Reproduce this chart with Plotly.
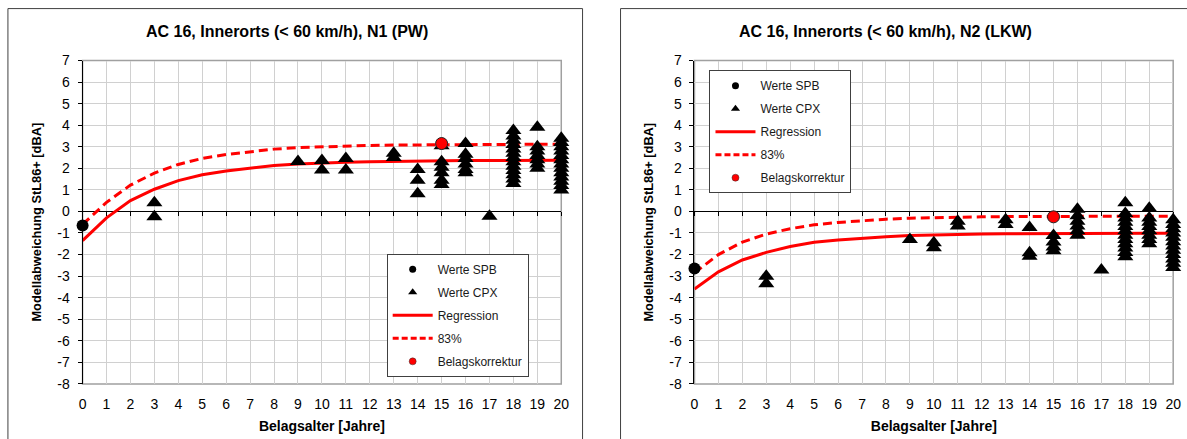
import plotly.graph_objects as go

# ---------------- data ----------------
years = list(range(0, 21))
x_ticks = list(range(0, 21))
y_ticks = list(range(-8, 8))
y_ticklabels = [str(v) for v in y_ticks]

title_pw = "AC 16, Innerorts (< 60 km/h), N1 (PW)"
title_lkw = "AC 16, Innerorts (< 60 km/h), N2 (LKW)"
x_title = "Belagsalter [Jahre]"
y_title = "Modellabweichung StL86+ [dBA]"
legend_names = ["Werte SPB", "Werte CPX", "Regression", "83%", "Belagskorrektur"]

# N1 (PW)
pw_spb_x = [0]
pw_spb_y = [-0.65]
pw_cpx_x = [3, 3,
            9,
            10, 10,
            11, 11,
            13, 13,
            14, 14, 14,
            15, 15, 15, 15, 15, 15,
            16, 16, 16, 16, 16, 16,
            17,
            18, 18, 18, 18, 18, 18, 18, 18, 18, 18, 18, 18, 18,
            19, 19, 19, 19, 19, 19, 19,
            20, 20, 20, 20, 20, 20, 20, 20, 20, 20, 20, 20, 20]
pw_cpx_y = [0.4, -0.25,
            2.32,
            2.36, 1.92,
            2.45, 1.92,
            2.7, 2.5,
            1.95, 1.45, 0.82,
            3.05, 2.3, 2.05, 1.8, 1.45, 1.25,
            3.15, 2.65, 2.45, 2.2, 1.95, 1.8,
            -0.22,
            3.75, 3.5, 3.3, 3.1, 2.9, 2.7, 2.5, 2.3, 2.1, 1.9, 1.7, 1.5, 1.3,
            3.9, 3.0, 2.8, 2.6, 2.4, 2.2, 2.0,
            3.4, 3.2, 3.0, 2.8, 2.6, 2.4, 2.2, 2.0, 1.8, 1.6, 1.4, 1.2, 1.0]
pw_regression = [-1.35, -0.3, 0.5, 1.03, 1.43, 1.7, 1.88, 2.02, 2.13, 2.2, 2.25,
                 2.28, 2.31, 2.33, 2.34, 2.35, 2.36, 2.36, 2.37, 2.37, 2.37]
pw_p83 = [-0.6, 0.42, 1.22, 1.78, 2.18, 2.46, 2.64, 2.78, 2.89, 2.96, 3.0,
          3.04, 3.06, 3.08, 3.09, 3.1, 3.11, 3.11, 3.12, 3.12, 3.12]
pw_korr_x = [15]
pw_korr_y = [3.15]

# N2 (LKW)
lkw_spb_x = [0]
lkw_spb_y = [-2.65]
lkw_cpx_x = [3, 3,
             9,
             10, 10,
             11, 11,
             13, 13,
             14, 14, 14,
             15, 15, 15, 15,
             16, 16, 16, 16, 16, 16,
             17,
             18, 18, 18, 18, 18, 18, 18, 18, 18, 18, 18, 18,
             19, 19, 19, 19, 19, 19, 19, 19,
             20, 20, 20, 20, 20, 20, 20, 20, 20, 20, 20, 20]
lkw_cpx_y = [-3.0, -3.35,
             -1.3,
             -1.45, -1.68,
             -0.45, -0.67,
             -0.38, -0.6,
             -0.75, -1.92, -2.08,
             -1.12, -1.42, -1.65, -1.82,
             0.1, -0.2, -0.45, -0.67, -0.9, -1.1,
             -2.72,
             0.4, -0.1, -0.3, -0.5, -0.7, -0.9, -1.1, -1.3, -1.5, -1.7, -1.9, -2.1,
             0.15, -0.3, -0.5, -0.7, -0.9, -1.1, -1.3, -1.5,
             -0.38, -0.6, -0.8, -1.0, -1.2, -1.4, -1.6, -1.8, -2.0, -2.2, -2.4, -2.6]
lkw_regression = [-3.6, -2.8, -2.25, -1.9, -1.63, -1.43, -1.32, -1.24, -1.17, -1.12, -1.09,
                  -1.07, -1.05, -1.04, -1.03, -1.02, -1.02, -1.01, -1.01, -1.01, -1.01]
lkw_p83 = [-2.85, -2.0, -1.42, -1.05, -0.8, -0.62, -0.51, -0.43, -0.36, -0.31, -0.28,
           -0.26, -0.25, -0.24, -0.23, -0.23, -0.22, -0.22, -0.22, -0.22, -0.22]
lkw_korr_x = [15]
lkw_korr_y = [-0.25]

# ---------------- style ----------------
W, H = 1196, 448
FONT = "Liberation Sans, Arial, sans-serif"
RED = "#ff0000"
GRID = "#d0d0d0"

# page-position helpers (target picture pixels -> paper fractions)
SX, OX = 0.9906, 3.07
SY, OY = 0.966, 6.7


def px(X):
    return ((X - OX) / SX) / W


def py(Y):
    return 1 - ((Y - OY) / SY) / H


xdom_l = [px(81.7), px(560.7)]
xdom_r = [px(694.0), px(1173.0)]
ydom = [py(383.3), py(59.3)]
zero_pos = ydom[0] + (0 - (-8)) / 15 * (ydom[1] - ydom[0])

fig = go.Figure()


def add_panel(xa, ya, xz, spb_x, spb_y, cpx_x, cpx_y, reg, p83, korr_x, korr_y, legend):
    common = dict(xaxis=xa, yaxis=ya, hoverinfo="skip", cliponaxis=False)
    fig.add_trace(go.Scatter(x=years, y=reg, mode="lines", line=dict(color=RED, width=3),
                             showlegend=False, **common))
    fig.add_trace(go.Scatter(x=years, y=p83, mode="lines",
                             line=dict(color=RED, width=3, dash="9px,5px"),
                             showlegend=False, **common))
    fig.add_trace(go.Scatter(x=spb_x, y=spb_y, mode="markers",
                             marker=dict(symbol="circle", size=12, color="black"),
                             showlegend=False, **common))
    fig.add_trace(go.Scatter(x=cpx_x, y=cpx_y, mode="markers",
                             marker=dict(symbol="triangle-up", size=14, color="black"),
                             showlegend=False, **common))
    fig.add_trace(go.Scatter(x=korr_x, y=korr_y, mode="markers",
                             marker=dict(symbol="circle", size=12, color=RED,
                                         line=dict(color="#202020", width=1)),
                             showlegend=False, **common))
    # legend entries
    leg = [
        dict(mode="markers", marker=dict(symbol="circle", size=7, color="black")),
        dict(mode="markers", marker=dict(symbol="triangle-up", size=8, color="black")),
        dict(mode="lines", line=dict(color=RED, width=3)),
        dict(mode="lines", line=dict(color=RED, width=3, dash="6px,3px")),
        dict(mode="markers", marker=dict(symbol="circle", size=7, color=RED,
                                         line=dict(color="#303030", width=0.5))),
    ]
    for i, (name, kw) in enumerate(zip(legend_names, leg)):
        fig.add_trace(go.Scatter(x=[None], y=[None], name=name, legend=legend,
                                 legendgroup=legend + str(i), xaxis=xa, yaxis=ya,
                                 hoverinfo="skip", **kw))
    # dummy for the zero-crossing tick axis
    fig.add_trace(go.Scatter(x=[None], y=[None], xaxis=xz, yaxis=ya, mode="lines",
                             showlegend=False, hoverinfo="skip"))


add_panel("x", "y", "x3", pw_spb_x, pw_spb_y, pw_cpx_x, pw_cpx_y,
          pw_regression, pw_p83, pw_korr_x, pw_korr_y, "legend")
add_panel("x2", "y2", "x4", lkw_spb_x, lkw_spb_y, lkw_cpx_x, lkw_cpx_y,
          lkw_regression, lkw_p83, lkw_korr_x, lkw_korr_y, "legend2")

xaxis_common = dict(range=[0, 20], tickvals=x_ticks, showgrid=True, gridcolor=GRID,
                    gridwidth=1, zeroline=False, showline=False, ticks="",
                    tickfont=dict(family=FONT, size=14, color="black"),
                    ticklabelstandoff=10,
                    title=dict(text=x_title, standoff=10,
                               font=dict(family=FONT, size=14, color="black", weight="bold")))
yaxis_common = dict(range=[-8, 7], tickvals=y_ticks, ticktext=y_ticklabels,
                    showgrid=True, gridcolor=GRID, gridwidth=1,
                    zeroline=True, zerolinecolor="black", zerolinewidth=1,
                    showline=True, linecolor="black", linewidth=1,
                    ticks="outside", ticklen=4, tickcolor="black", tickwidth=1,
                    ticklabelstandoff=5,
                    tickfont=dict(family=FONT, size=14, color="black"),
                    title=dict(text=y_title, standoff=12,
                               font=dict(family=FONT, size=12.8, color="black", weight="bold")))
zaxis_common = dict(range=[0, 20], tickvals=x_ticks, showticklabels=False, showgrid=False,
                    zeroline=False, showline=False, ticks="outside", ticklen=4,
                    tickcolor="black", tickwidth=1, anchor="free", position=zero_pos,
                    side="bottom", layer="below traces")

legend_common = dict(xanchor="left", yanchor="top", bgcolor="white",
                     bordercolor="#404040", borderwidth=1,
                     font=dict(family=FONT, size=12, color="#1a1a1a"),
                     tracegroupgap=4, itemwidth=40)

fig.update_layout(
    width=W, height=H,
    margin=dict(l=0, r=0, t=0, b=0),
    paper_bgcolor="white", plot_bgcolor="white",
    font=dict(family=FONT, size=12, color="black"),
    xaxis=dict(domain=xdom_l, anchor="y", **xaxis_common),
    yaxis=dict(domain=ydom, anchor="x", **yaxis_common),
    xaxis2=dict(domain=xdom_r, anchor="y2", **xaxis_common),
    yaxis2=dict(domain=ydom, anchor="x2", **yaxis_common),
    xaxis3=dict(overlaying="x", **zaxis_common),
    xaxis4=dict(overlaying="x2", **zaxis_common),
    legend=dict(x=px(386), y=py(253), **legend_common),
    legend2=dict(x=px(709), y=py(69), **legend_common),
    showlegend=True,
    annotations=[
        dict(text=title_pw, x=px(286), y=py(30), xref="paper", yref="paper",
             showarrow=False, xanchor="center", yanchor="middle",
             font=dict(family=FONT, size=16, color="black", weight="bold")),
        dict(text=title_lkw, x=px(885), y=py(30), xref="paper", yref="paper",
             showarrow=False, xanchor="center", yanchor="middle",
             font=dict(family=FONT, size=16, color="black", weight="bold")),
    ],
    shapes=[
        dict(type="rect", xref="paper", yref="paper", x0=px(7), x1=px(582),
             y0=-0.2, y1=1 - 0.6 / H, line=dict(color="#404040", width=1), layer="below"),
        dict(type="rect", xref="paper", yref="paper", x0=px(620), x1=1.2,
             y0=-0.2, y1=1 - 0.6 / H, line=dict(color="#404040", width=1), layer="below"),
        dict(type="rect", xref="x domain", yref="y domain", x0=0, x1=1, y0=0, y1=1,
             line=dict(color="#a0a0a0", width=1.5), layer="below"),
        dict(type="rect", xref="x2 domain", yref="y2 domain", x0=0, x1=1, y0=0, y1=1,
             line=dict(color="#a0a0a0", width=1.5), layer="below"),
    ],
)

fig.write_html(
    "out.html",
    config={"displayModeBar": False},
    post_script="document.body.style.margin='0';document.body.style.overflow='hidden';",
)
